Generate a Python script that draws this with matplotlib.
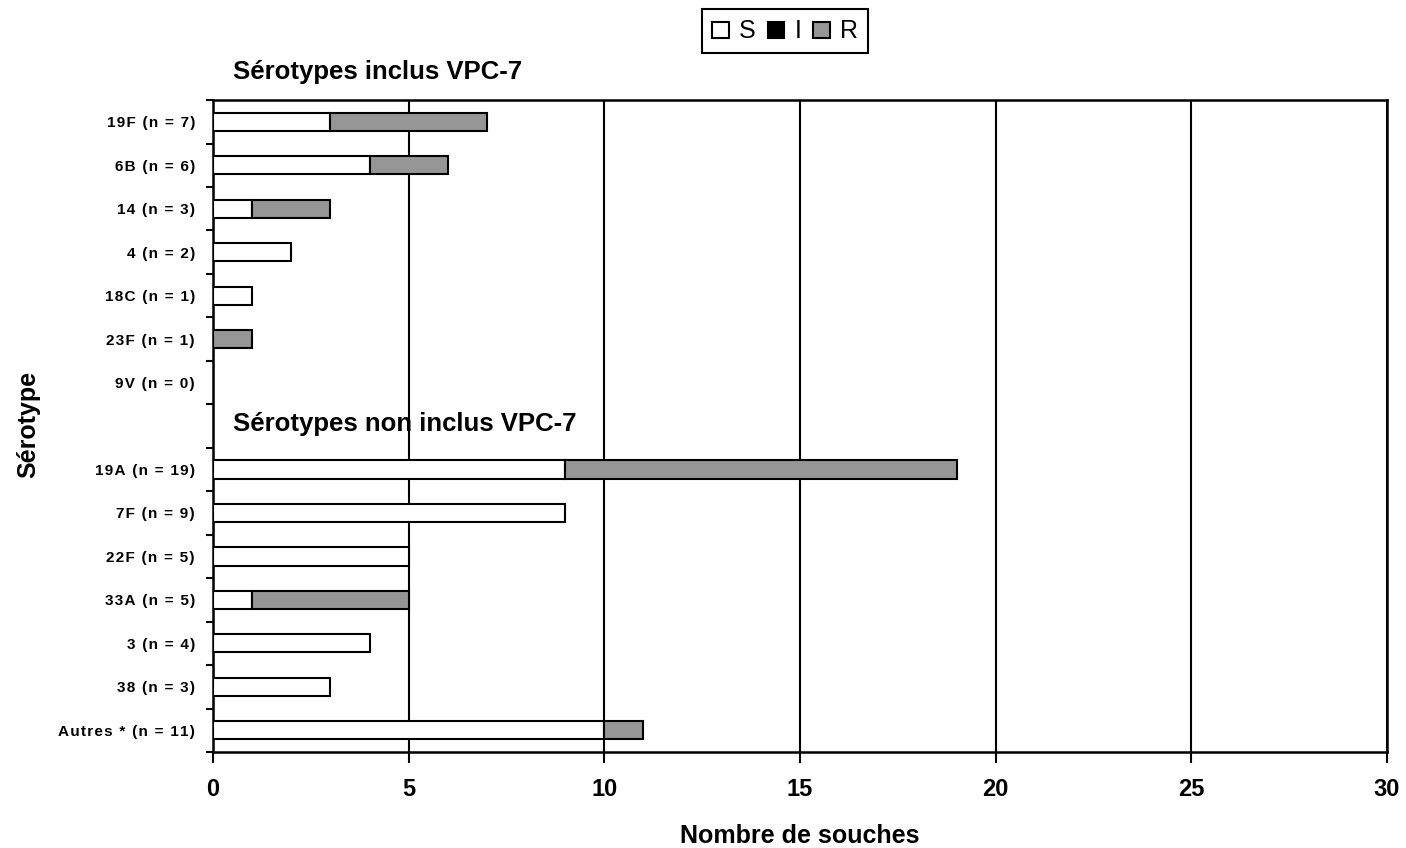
import numpy as np
import matplotlib
matplotlib.use("Agg")
import matplotlib.pyplot as plt
from matplotlib.patches import Patch
from matplotlib.ticker import FixedLocator

plt.rcParams['font.family'] = ['Liberation Sans', 'DejaVu Sans']

# données (haut -> bas), ligne vide entre les deux groupes
labels = ["19F (n = 7)", "6B (n = 6)", "14 (n = 3)", "4 (n = 2)", "18C (n = 1)",
          "23F (n = 1)", "9V (n = 0)", "",
          "19A (n = 19)", "7F (n = 9)", "22F (n = 5)", "33A (n = 5)",
          "3 (n = 4)", "38 (n = 3)", "Autres * (n = 11)"]
S = [3, 4, 1, 2, 1, 0, 0, 0, 9, 9, 5, 1, 4, 3, 10]
I = [0, 0, 0, 0, 0, 0, 0, 0, 0, 0, 0, 0, 0, 0, 0]
R = [4, 2, 2, 0, 0, 1, 0, 0, 10, 0, 0, 4, 0, 0, 1]

col_S = "white"
col_I = "black"
col_R = "#969696"

S = np.array(S)
I = np.array(I)
R = np.array(R)
y = np.arange(len(labels))

# étiquettes espacées comme dans l'original (espace fine entre les caractères)
spaced = ["\u200a".join(lab) for lab in labels]

fig = plt.figure(figsize=(14.06, 8.48), dpi=100)
ax = fig.add_axes([0.1515, 0.1132, 0.835, 0.7688])

h = 0.42
kw = dict(height=h, edgecolor="black", linewidth=1.5, zorder=3)
for i in range(len(y)):
    if S[i] > 0:
        ax.barh(y[i], S[i], color=col_S, **kw)
    if I[i] > 0:
        ax.barh(y[i], I[i], left=S[i], color=col_I, **kw)
    if R[i] > 0:
        ax.barh(y[i], R[i], left=S[i] + I[i], color=col_R, **kw)

ax.set_xlim(0, 30)
ax.set_ylim(len(labels) - 0.5, -0.5)
ax.set_xticks(np.arange(0, 31, 5))
ax.set_yticks(y)
ax.set_yticklabels(spaced, fontsize=11, fontweight="bold")
ax.yaxis.set_minor_locator(FixedLocator(np.arange(-0.5, len(labels), 1)))
ax.tick_params(axis="y", which="major", length=0, pad=13)
ax.tick_params(axis="y", which="minor", length=5, width=1.5, direction="out")
ax.tick_params(axis="x", length=8, width=1.5, pad=11, labelsize=17)
for t in ax.get_xticklabels():
    t.set_fontweight("bold")

ax.grid(axis="x", color="black", linewidth=1.5, zorder=1)
ax.set_axisbelow(True)
for sp in ax.spines.values():
    sp.set_linewidth(1.8)

ax.set_xlabel("Nombre de souches", fontsize=18, fontweight="bold", labelpad=16)
fig.text(0.02, 0.5, "Sérotype", rotation=90, fontsize=18, fontweight="bold",
         ha="center", va="center")

ax.text(0.5, -1.15, "Sérotypes inclus VPC-7", fontsize=18.5, fontweight="bold",
        va="center", ha="left", clip_on=False)
ax.text(0.5, 6.95, "Sérotypes non inclus VPC-7", fontsize=18.5, fontweight="bold",
        va="center", ha="left", zorder=5)

handles = [Patch(facecolor=col_S, edgecolor="black", linewidth=1.5),
           Patch(facecolor=col_I, edgecolor="black", linewidth=1.5),
           Patch(facecolor=col_R, edgecolor="black", linewidth=1.5)]
leg = fig.legend(handles, ["S", "I", "R"], loc="center", bbox_to_anchor=(0.5583, 0.9629),
                 ncol=3, fontsize=18, handlelength=0.67, handleheight=0.62,
                 handletextpad=0.4, columnspacing=0.48, borderpad=0.4,
                 borderaxespad=0, fancybox=False, framealpha=1)
leg.get_frame().set_edgecolor("black")
leg.get_frame().set_linewidth(1.5)

fig.savefig("out.png", dpi=100)
